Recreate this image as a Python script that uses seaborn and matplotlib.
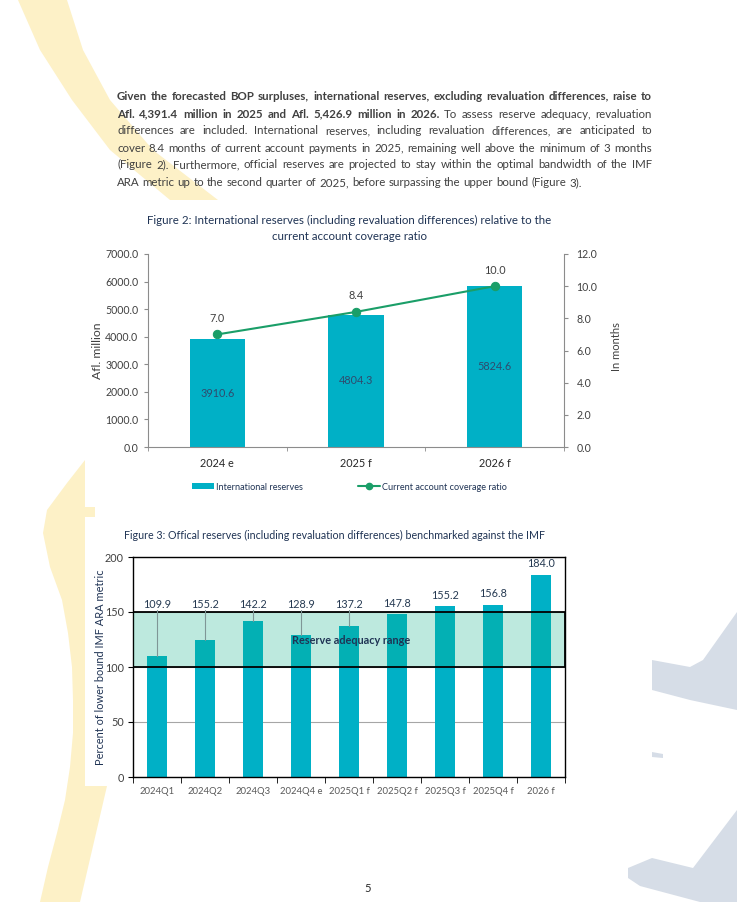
import numpy as np
import seaborn as sns
import matplotlib.pyplot as plt
from matplotlib.patches import Patch, Polygon
from matplotlib.lines import Line2D

# Figure 2 data
years = ["2024 e", "2025 f", "2026 f"]
reserves = [3910.6, 4804.3, 5824.6]
coverage = [7.0, 8.4, 10.0]

# Figure 3 data (bar heights and the printed labels differ in the source)
quarters = ["2024Q1", "2024Q2", "2024Q3", "2024Q4 e", "2025Q1 f",
            "2025Q2 f", "2025Q3 f", "2025Q4 f", "2026 f"]
ara_bars = [109.9, 124.3, 142.2, 128.9, 137.2, 147.8, 155.2, 156.8, 184.0]
ara_labels = ["109.9", "155.2", "142.2", "128.9", "137.2",
              "147.8", "155.2", "156.8", "184.0"]
band_low, band_high = 100, 150

W, H = 737, 902
TEAL = "#00b0c6"
GREEN = "#1a9e68"
NAVY = "#1f3354"
TXT = "#404040"
YELLOW = "#fdf1c7"
SHADE = "#d6dde7"

sns.set_style("white")
plt.rcParams["font.family"] = ["Lato", "DejaVu Sans"]

fig = plt.figure(figsize=(W / 100, H / 100), dpi=100)
renderer = fig.canvas.get_renderer()


def fx(x):
    return x / W


def fy(y):
    return 1 - y / H


def fit(t, target):
    w = t.get_window_extent(renderer).width
    t.set_fontsize(t.get_fontsize() * target / w)


# --- page background decoration (pixel coords) ---
bg = fig.add_axes([0, 0, 1, 1], zorder=-5)
bg.set_xlim(0, W)
bg.set_ylim(H, 0)
bg.axis("off")
swoosh_l = [(18, 0), (40, 50), (72, 100), (110, 150), (170, 200)]
swoosh_r = [(67, 0), (83, 50), (110, 100), (153, 150), (218, 200)]
bg.add_patch(Polygon(swoosh_l + swoosh_r[::-1], color=YELLOW, lw=0))
stem_l = [(85, 460), (67, 483), (47, 510), (43, 533), (50, 567), (62, 600),
          (68, 633), (72, 667), (73, 700), (73, 733), (70, 767), (65, 800),
          (57, 833), (48, 867), (40, 902)]
stem_r = [(80, 902), (107, 786), (85, 786), (85, 517), (95, 517), (95, 507),
          (85, 507)]
bg.add_patch(Polygon(stem_l + stem_r, color=YELLOW, lw=0))
bg.add_patch(Polygon([(652, 660), (690, 667), (703, 660), (737, 612),
                      (737, 710), (690, 700), (652, 690)], color=SHADE, lw=0))
bg.add_patch(Polygon([(652, 752), (663, 754), (663, 758), (652, 757)],
                     color=SHADE, lw=0))
bg.add_patch(Polygon([(628, 868), (652, 858), (693, 868), (737, 810),
                      (737, 902), (700, 902), (640, 886), (628, 878)],
                     color=SHADE, lw=0))

# --- justified paragraph ---
para = [
    [("Given the forecasted BOP surpluses, international reserves, excluding revaluation differences, raise to", True)],
    [("Afl. 4,391.4 million in 2025 and Afl. 5,426.9 million in 2026.", True),
     ("To assess reserve adequacy, revaluation", False)],
    [("differences are included. International reserves, including revaluation differences, are anticipated to", False)],
    [("cover 8.4 months of current account payments in 2025, remaining well above the minimum of 3 months", False)],
    [("(Figure 2). Furthermore, official reserves are projected to stay within the optimal bandwidth of the IMF", False)],
    [("ARA metric up to the second quarter of 2025, before surpassing the upper bound (Figure 3).", False)],
]
line_y = [96, 114, 131, 148, 165, 183]
p_left, p_right = 117, 652


def width(s, size, bold):
    t = fig.text(0, 0, s, fontsize=size, fontweight="bold" if bold else "normal")
    w = t.get_window_extent(renderer).width
    t.remove()
    return w


base = 10
widest = max(sum(width(s, base, b) for s, b in ln) + width(" ", base, False) * (len(ln) - 1)
             for ln in para[:-1])
psize = base * 0.975 * (p_right - p_left) / widest
space = width("a a", psize, False) - width("aa", psize, False)

for k, (ln, y) in enumerate(zip(para, line_y)):
    words = [(w, b) for s, b in ln for w in s.split(" ")]
    ws = [width(w, psize, b) for w, b in words]
    if k < len(para) - 1:
        gap = (p_right - p_left - sum(ws)) / (len(words) - 1)
    else:
        gap = space
    x = p_left
    for (w, b), wd in zip(words, ws):
        fig.text(fx(x), fy(y + 3.5), w, fontsize=psize, color=TXT, va="baseline",
                 fontweight="bold" if b else "normal")
        x += wd + gap

# --- Figure 2 ---
t = fig.text(fx(349.5), fy(220), "Figure 2: International reserves (including revaluation differences) relative to the",
             ha="center", va="center", color=NAVY, fontsize=8)
fit(t, 405)
fig.text(fx(349.5), fy(236), "current account coverage ratio", ha="center", va="center",
         color=NAVY, fontsize=t.get_fontsize())

ax = fig.add_axes([fx(148), fy(447), (564 - 148) / W, (447 - 254) / H])
ax.set_facecolor("none")
sns.barplot(x=years, y=reserves, color=TEAL, width=0.4, saturation=1, lw=0, ax=ax)
ax.set_xlim(-0.5, len(years) - 0.5)
ax.set_ylim(0, 7000)
ax.set_yticks(np.arange(0, 7001, 1000))
ax.yaxis.set_major_formatter("{x:.1f}")
ax.set_xticks(np.arange(-0.5, len(years)), minor=True)
ax.tick_params(axis="x", which="major", length=0, pad=8, labelsize=7.8, labelcolor="#262626")
ax.tick_params(axis="x", which="minor", bottom=True, length=3, color="#8c8c8c", direction="out")
ax.tick_params(axis="y", left=True, length=3, color="#8c8c8c", direction="out", pad=4,
               labelsize=7.6, labelcolor=TXT)
ax.bar_label(ax.containers[0], fmt="%.1f", label_type="center", fontsize=7.8, color="#2f4b6e")
for s in ["top", "right"]:
    ax.spines[s].set_visible(False)
for s in ["left", "bottom"]:
    ax.spines[s].set_color("#8c8c8c")

ax2 = ax.twinx()
sns.lineplot(x=np.arange(len(years)), y=coverage, ax=ax2, color=GREEN, lw=1.5,
             marker="o", markersize=6, markeredgecolor=GREEN)
ax2.set_ylim(0, 12)
ax2.set_yticks(np.arange(0, 12.1, 2))
ax2.yaxis.set_major_formatter("{x:.1f}")
ax2.tick_params(axis="y", right=True, length=3, color="#8c8c8c", direction="out", pad=6,
                labelsize=7.6, labelcolor=TXT)
for s in ["top", "left", "bottom"]:
    ax2.spines[s].set_visible(False)
ax2.spines["right"].set_color("#8c8c8c")
for i, v in enumerate(coverage):
    ax2.annotate(f"{v:.1f}", (i, v), xytext=(0, 11.5), textcoords="offset points",
                 ha="center", va="center", fontsize=7.8, color=TXT)

fig.text(fx(97), fy(351), "Afl. million", rotation=90, ha="center", va="center",
         fontsize=8.8, color=TXT)
fig.text(fx(617), fy(347), "In months", rotation=90, ha="center", va="center",
         fontsize=8.0, color=TXT)

handles = [Patch(facecolor=TEAL, edgecolor="none"),
           Line2D([], [], color=GREEN, lw=1.5, marker="o", markersize=4.5)]
fig.legend(handles, ["International reserves", "Current account coverage ratio"],
           loc="center", bbox_to_anchor=(fx(349.5), fy(487)), ncol=2, frameon=False,
           fontsize=6.6, handlelength=2.4, handleheight=0.6, handletextpad=0.2,
           columnspacing=6.0, labelcolor=NAVY)

# --- Figure 3 ---
t3 = fig.text(fx(334), fy(535), "Figure 3: Offical reserves (including revaluation differences) benchmarked against the IMF",
              ha="center", va="center", color=NAVY, fontsize=8)
fit(t3, 421)

ax3 = fig.add_axes([fx(133), fy(777), (565 - 133) / W, (777 - 557) / H])
ax3.set_facecolor("none")
sns.barplot(x=quarters, y=ara_bars, color=TEAL, width=0.4, saturation=1, lw=0, ax=ax3)
ax3.set_xlim(-0.5, len(quarters) - 0.5)
ax3.set_ylim(0, 200)
ax3.set_yticks(np.arange(0, 201, 50))
ax3.yaxis.grid(True, color="#a6a6a6", lw=0.8)
ax3.set_axisbelow(True)
ax3.axhspan(band_low, band_high, facecolor=(0.055, 0.694, 0.522, 0.27),
            edgecolor="black", lw=1.3, zorder=3)
ax3.text(4.05, (band_low + band_high) / 2 - 0.5, "Reserve adequacy range", ha="center",
         va="center", fontsize=7.8, fontweight="bold", color=NAVY, zorder=5)
for i, (v, lab) in enumerate(zip(ara_bars, ara_labels)):
    ly = max(v, 147) + 10
    ax3.text(i, ly, lab, ha="center", va="center", fontsize=7.8, color="#263a52", zorder=6)
    if v < 147:
        ax3.plot([i, i], [v, 152], color="#7f9696", lw=0.8, zorder=4)
ax3.set_xticks(np.arange(-0.5, len(quarters)), minor=True)
ax3.tick_params(axis="x", which="major", length=0, pad=7, labelsize=6.8, labelcolor="#595959")
ax3.tick_params(axis="x", which="minor", bottom=True, length=4, color="black", direction="out")
ax3.tick_params(axis="y", left=True, length=3.5, color="black", direction="out", pad=3,
                labelsize=7.8, labelcolor=TXT)
for s in ax3.spines.values():
    s.set_color("black")
    s.set_linewidth(1.0)

fig.text(fx(100), fy(667), "Percent of lower bound IMF ARA metric", rotation=90,
         ha="center", va="center", fontsize=7.9, color=NAVY)

fig.text(fx(368), fy(888), "5", ha="center", va="center", fontsize=8, color="#262626")

fig.savefig("out.png", dpi=100)
